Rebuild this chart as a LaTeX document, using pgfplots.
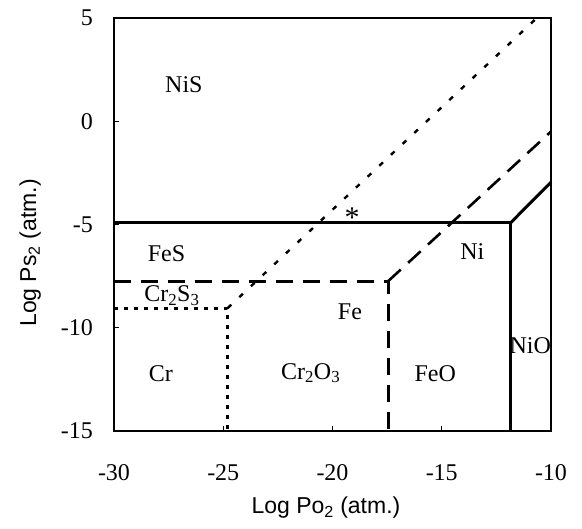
\documentclass[border=0pt]{standalone}
\usepackage{fontspec}
\setmainfont{Liberation Serif}
\newfontfamily\arial{Liberation Sans}
\usepackage{pgfplots}
\pgfplotsset{compat=1.18}

\begin{document}
\begin{tikzpicture}
\begin{axis}[
    scale only axis,
    width=437pt, height=413pt,
    xmin=-30, xmax=-10, ymin=-15, ymax=5,
    xtick={-30,-25,...,-10}, ytick={-15,-10,...,5},
    tick pos=left, tick align=inside,
    major tick length=5pt,
    axis line style={line width=2.4pt},
    every tick/.style={black, line width=1pt},
    /pgf/number format/assume math mode=true,
    tick label style={font=\fontsize{24}{28}\selectfont, inner sep=0pt},
    xticklabel style={anchor=north, yshift=-33pt},
    yticklabel style={anchor=east, xshift=-21pt},
    xlabel={\arial Log Po\textsubscript{2} (atm.)},
    ylabel={\arial Log Ps\textsubscript{2} (atm.)},
    label style={font=\fontsize{23}{27}\selectfont, inner sep=0pt},
    xlabel style={at={(axis description cs:0.485,-0.185)}, anchor=center},
    ylabel style={at={(axis description cs:-0.192,0.431)}, anchor=center},
    clip=false,
]
% solid boundary (Ni)
\addplot[black, line width=3pt] coordinates {(-30,-4.92) (-11.85,-4.92) (-11.85,-15)};
\addplot[black, line width=3pt] coordinates {(-11.85,-4.92) (-10,-2.95)};
% dashed boundary (Fe)
\addplot[black, line width=3pt, dash pattern=on 17pt off 10pt] coordinates {(-30,-7.74) (-17.45,-7.74) (-17.45,-15)};
\addplot[black, line width=2.6pt, dash pattern=on 17pt off 10pt] coordinates {(-17.45,-7.74) (-10,-0.5)};
% dotted boundary (Cr)
\addplot[black, line width=3pt, dash pattern=on 4pt off 6pt] coordinates {(-30,-9.05) (-24.8,-9.05) (-24.8,-15)};
\addplot[black, line width=2.4pt, dash pattern=on 5pt off 11pt] coordinates {(-24.8,-9.05) (-10.65,5)};

\begin{scope}[every node/.style={font=\fontsize{24}{28}\selectfont, inner sep=0pt}]
\node at (axis cs:-26.8,1.75) {NiS};
\node at (axis cs:-27.6,-6.4) {FeS};
\node at (axis cs:-27.35,-8.45) {Cr\textsubscript{2}S\textsubscript{3}};
\node at (axis cs:-27.85,-12.2) {Cr};
\node at (axis cs:-21.0,-12.2) {Cr\textsubscript{2}O\textsubscript{3}};
\node at (axis cs:-15.3,-12.2) {FeO};
\node at (axis cs:-19.2,-9.25) {Fe};
\node at (axis cs:-13.6,-6.33) {Ni};
\node at (axis cs:-10.95,-10.85) {NiO};
\node[font=\fontsize{30}{34}\selectfont] at (axis cs:-19.1,-4.65) {*};
\end{scope}
\end{axis}
\pgfresetboundingbox
\path[use as bounding box] (-114pt,-98pt) rectangle (468pt,431pt);
\end{tikzpicture}
\end{document}
